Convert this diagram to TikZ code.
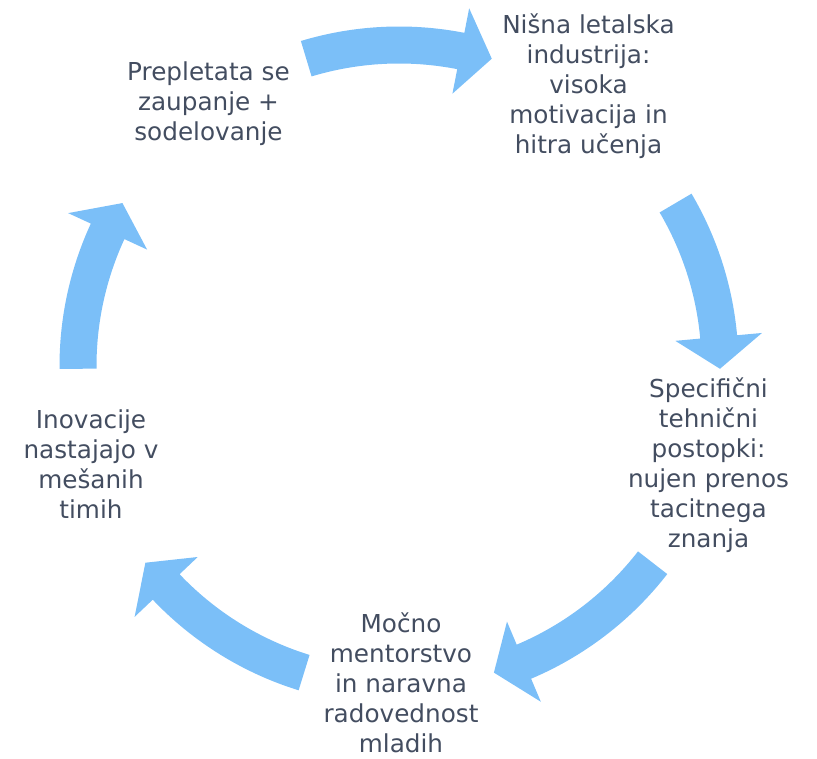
\documentclass[tikz,border=0pt]{standalone}
\usepackage{fontspec}
\setmainfont{DejaVu Sans}
\usepackage{tikz}
\definecolor{slate}{HTML}{434D60}
\definecolor{skyblue}{HTML}{7BBFF8}

\begin{document}
\begin{tikzpicture}[x=1pt, y=1pt]

\tikzset{stage/.style = {align=center, inner sep=0pt, text=slate, font=\fontsize{24.7}{30}\selectfont}}
\tikzset{cyclearrow/.style = {fill=skyblue, draw=none}}
\useasboundingbox (0,0) rectangle (817,759);
%stages
\coordinate (c) at (399,393);
\node[stage] (1) at (208.5,655) {Prepletata se\\zaupanje +\\sodelovanje};
\node[stage] (2) at (588.5,672.5) {Nišna letalska\\industrija:\\visoka\\motivacija in\\hitra učenja};
\node[stage] (3) at (708.5,294) {Specifični\\tehnični\\postopki:\\nujen prenos\\tacitnega\\znanja};
\node[stage] (4) at (401,76) {Močno\\mentorstvo\\in naravna\\radovednost\\mladih};
\node[stage] (5) at (91,295) {Inovacije\\nastajajo v\\mešanih\\timih};
%arrows
\begin{scope}[shift={(c)}]
\fill[cyclearrow] (106.8:339.5) arc[start angle=106.8, end angle=78.9, radius=339.5] -- (78.9:364.5) -- (73.2:321) -- (78.9:277.5) -- (78.9:302.5) arc[start angle=78.9, end angle=106.8, radius=302.5] -- cycle;
\fill[cyclearrow] (30.5:339.5) arc[start angle=30.5, end angle=5.2, radius=339.5] -- (5.2:364.5) -- (-0.5:321) -- (5.2:277.5) -- (5.2:302.5) arc[start angle=5.2, end angle=30.5, radius=302.5] -- cycle;
\fill[cyclearrow] (-37.8:339.5) arc[start angle=-37.8, end angle=-67.1, radius=339.5] -- (-67.1:364.5) -- (-72.8:321) -- (-67.1:277.5) -- (-67.1:302.5) arc[start angle=-67.1, end angle=-37.8, radius=302.5] -- cycle;
\fill[cyclearrow] (-107.2:339.5) arc[start angle=-107.2, end angle=-136.5, radius=339.5] -- (-136.5:364.5) -- (-142.2:321) -- (-136.5:277.5) -- (-136.5:302.5) arc[start angle=-136.5, end angle=-107.2, radius=302.5] -- cycle;
\fill[cyclearrow] (180.5:339.5) arc[start angle=180.5, end angle=155.2, radius=339.5] -- (155.2:364.5) -- (149.5:321) -- (155.2:277.5) -- (155.2:302.5) arc[start angle=155.2, end angle=180.5, radius=302.5] -- cycle;
\end{scope}

\end{tikzpicture}
\end{document}
